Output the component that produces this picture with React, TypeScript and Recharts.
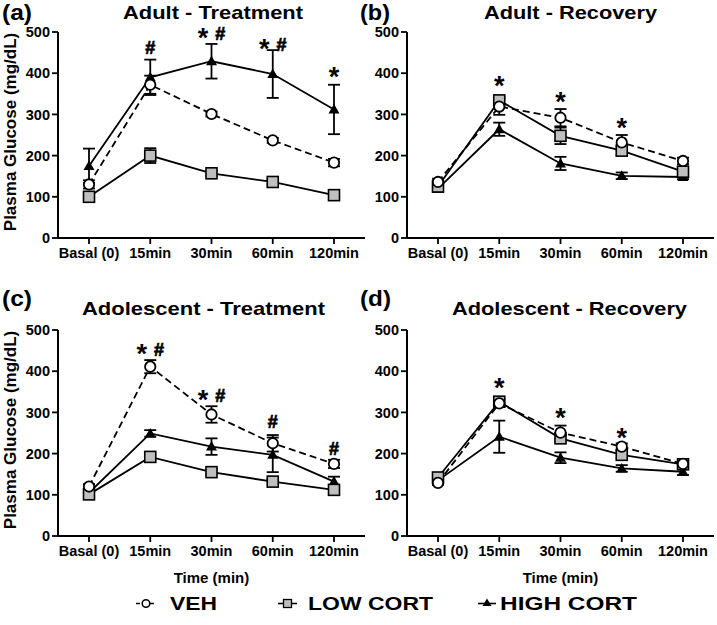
import { LineChart, Line, XAxis, YAxis, ErrorBar, LabelList } from 'recharts';

const FONT = '"Liberation Sans", Arial, sans-serif';

const categories = ['Basal (0)', '15min', '30min', '60min', '120min'];
const yTicks = [0, 100, 200, 300, 400, 500];

// (a) Adult - Treatment
const atVeh = [130, 372, 301, 237, 183];
const atVehErr = [10, 22, 6, 6, 9];
const atLow = [100, 200, 157, 136, 104];
const atLowErr = [6, 18, 6, 6, 5];
const atHigh = [175, 390, 429, 398, 312];
const atHighErr = [42, 43, 42, 58, 60];
const atMark = ['', '#', '* #', '* #', '*'];
const atMarkY = [null, 447, 480, 453, 386];

// (b) Adult - Recovery
const arVeh = [136, 319, 292, 232, 187];
const arVehErr = [8, 20, 21, 18, 8];
const arLow = [125, 334, 248, 212, 161];
const arLowErr = [6, 10, 20, 10, 10];
const arHigh = [120, 264, 181, 151, 148];
const arHighErr = [8, 16, 16, 8, 5];
const arMark = ['', '*', '*', '*', ''];
const arMarkY = [null, 364, 326, 262, null];

// (c) Adolescent - Treatment
const dtVeh = [120, 411, 295, 225, 175];
const dtVehErr = [6, 16, 20, 20, 10];
const dtLow = [101, 192, 155, 132, 112];
const dtLowErr = [5, 6, 6, 6, 6];
const dtHigh = [105, 249, 217, 197, 132];
const dtHighErr = [5, 8, 20, 42, 12];
const dtMark = ['', '* #', '* #', '#', '#'];
const dtMarkY = [null, 438, 326, 262, 197];

// (d) Adolescent - Recovery
const drVeh = [129, 322, 251, 217, 175];
const drVehErr = [5, 8, 17, 8, 6];
const drLow = [142, 326, 237, 197, 174];
const drLowErr = [5, 8, 8, 8, 8];
const drHigh = [135, 241, 190, 164, 156];
const drHighErr = [5, 39, 13, 8, 8];
const drMark = ['', '*', '*', '*', ''];
const drMarkY = [null, 355, 282, 233, null];

function buildData(veh, vehErr, low, lowErr, high, highErr, mark, markY) {
  return categories.map((name, i) => ({
    name,
    veh: veh[i],
    vehErr: vehErr[i],
    low: low[i],
    lowErr: lowErr[i],
    high: high[i],
    highErr: highErr[i],
    mark: mark[i],
    markY: markY[i],
  }));
}

const CircleDot = (props: any) => {
  const { cx, cy, index } = props;
  if (cx == null || cy == null) return <g key={`c${index}`} />;
  return <circle key={`c${index}`} cx={cx} cy={cy} r={5.2} fill="#fff" stroke="#000" strokeWidth={1.8} />;
};

const SquareDot = (props: any) => {
  const { cx, cy, index } = props;
  if (cx == null || cy == null) return <g key={`s${index}`} />;
  return <rect key={`s${index}`} x={cx - 5.5} y={cy - 5.5} width={11} height={11} fill="#bfbfbf" stroke="#000" strokeWidth={1.6} />;
};

const TriangleDot = (props: any) => {
  const { cx, cy, index } = props;
  if (cx == null || cy == null) return <g key={`t${index}`} />;
  return <path key={`t${index}`} d={`M${cx},${cy - 5.5} L${cx + 5.5},${cy + 4} L${cx - 5.5},${cy + 4} Z`} fill="#000" />;
};

// significance marks: large asterisk, bold hash, tops aligned
const markLabel = (props: any) => {
  const { x, y, value } = props;
  if (!value || x == null || y == null) return null;
  const parts = String(value).split(' ');
  const both = parts.length > 1;
  return (
    <text x={x} y={y} textAnchor="middle" fill="#000" fontWeight="bold" fontFamily={FONT}>
      {parts.map((p, i) =>
        p === '*' ? (
          <tspan key={i} fontSize={27} dy={7}>
            {p}
          </tspan>
        ) : (
          <tspan key={i} fontSize={18} dy={both ? -7 : 0} dx={both ? 7 : 0} stroke="#000" strokeWidth={0.7}>
            {p}
          </tspan>
        )
      )}
    </text>
  );
};

const tickStyle = { fill: '#000', fontSize: 14.5, fontWeight: 'bold', fontFamily: FONT };

function Panel({ left, top, data, yLabel, xLabel }: any) {
  return (
    <div style={{ position: 'absolute', left, top }}>
      <LineChart width={367} height={290} data={data} margin={{ top: 32, right: 2, bottom: 0, left: 0 }}>
        <XAxis
          dataKey="name"
          interval={0}
          padding={{ left: 31, right: 31 }}
          height={52}
          tickSize={6}
          tickMargin={4}
          axisLine={{ stroke: '#000', strokeWidth: 2 }}
          tickLine={{ stroke: '#000', strokeWidth: 1.8 }}
          tick={tickStyle}
          label={
            xLabel
              ? (p: any) => {
                  const vb = p.viewBox;
                  return (
                    <text x={vb.x + vb.width / 2} y={vb.y + 47} textAnchor="middle" fill="#000" fontSize={15} fontWeight="bold" fontFamily={FONT}>
                      Time (min)
                    </text>
                  );
                }
              : undefined
          }
        />
        <YAxis
          type="number"
          domain={[0, 500]}
          ticks={yTicks}
          interval={0}
          width={58}
          tickSize={6}
          tickMargin={2}
          axisLine={{ stroke: '#000', strokeWidth: 2 }}
          tickLine={{ stroke: '#000', strokeWidth: 1.8 }}
          tick={tickStyle}
          label={
            yLabel
              ? (p: any) => {
                  const vb = p.viewBox;
                  const cx = vb.x + 16;
                  const cy = vb.y + vb.height / 2 - 3;
                  return (
                    <text x={cx} y={cy} transform={`rotate(-90 ${cx} ${cy})`} textAnchor="middle" fill="#000" fontSize={17} fontWeight="bold" fontFamily={FONT}>
                      Plasma Glucose (mg/dL)
                    </text>
                  );
                }
              : undefined
          }
        />
        <Line dataKey="high" stroke="#000" strokeWidth={1.8} dot={TriangleDot} activeDot={false} isAnimationActive={false}>
          <ErrorBar dataKey="highErr" direction="y" width={6} stroke="#000" strokeWidth={1.8} />
        </Line>
        <Line dataKey="low" stroke="#000" strokeWidth={1.8} dot={SquareDot} activeDot={false} isAnimationActive={false}>
          <ErrorBar dataKey="lowErr" direction="y" width={6} stroke="#000" strokeWidth={1.8} />
        </Line>
        <Line dataKey="veh" stroke="#000" strokeWidth={1.8} strokeDasharray="7 4" dot={CircleDot} activeDot={false} isAnimationActive={false}>
          <ErrorBar dataKey="vehErr" direction="y" width={6} stroke="#000" strokeWidth={1.8} strokeDasharray="0" />
        </Line>
        <Line dataKey="markY" stroke="none" dot={false} activeDot={false} isAnimationActive={false}>
          <LabelList dataKey="mark" content={markLabel} />
        </Line>
      </LineChart>
    </div>
  );
}

const letters = ['(a)', '(b)', '(c)', '(d)'];
const titles = ['Adult - Treatment', 'Adult - Recovery', 'Adolescent - Treatment', 'Adolescent - Recovery'];

export default function App() {
  const txt = { fill: '#000', fontWeight: 'bold', fontFamily: FONT } as any;
  return (
    <div style={{ position: 'absolute', left: 0, top: 0, width: 717, height: 625, background: '#fff', overflow: 'hidden' }}>
      <Panel left={0} top={0} data={buildData(atVeh, atVehErr, atLow, atLowErr, atHigh, atHighErr, atMark, atMarkY)} yLabel />
      <Panel left={349} top={0} data={buildData(arVeh, arVehErr, arLow, arLowErr, arHigh, arHighErr, arMark, arMarkY)} />
      <Panel left={0} top={298} data={buildData(dtVeh, dtVehErr, dtLow, dtLowErr, dtHigh, dtHighErr, dtMark, dtMarkY)} yLabel xLabel />
      <Panel left={349} top={298} data={buildData(drVeh, drVehErr, drLow, drLowErr, drHigh, drHighErr, drMark, drMarkY)} xLabel />
      <svg width={717} height={625} style={{ position: 'absolute', left: 0, top: 0, pointerEvents: 'none' }}>
        <text x={2} y={20} fontSize={22} textLength={30} lengthAdjust="spacingAndGlyphs" {...txt}>{letters[0]}</text>
        <text x={360} y={20} fontSize={22} textLength={30} lengthAdjust="spacingAndGlyphs" {...txt}>{letters[1]}</text>
        <text x={2} y={306} fontSize={22} textLength={30} lengthAdjust="spacingAndGlyphs" {...txt}>{letters[2]}</text>
        <text x={360} y={306} fontSize={22} textLength={31} lengthAdjust="spacingAndGlyphs" {...txt}>{letters[3]}</text>

        <text x={123} y={18.5} fontSize={19} textLength={180} lengthAdjust="spacingAndGlyphs" {...txt}>{titles[0]}</text>
        <text x={484} y={18.5} fontSize={19} textLength={173} lengthAdjust="spacingAndGlyphs" {...txt}>{titles[1]}</text>
        <text x={82} y={315} fontSize={19} textLength={243} lengthAdjust="spacingAndGlyphs" {...txt}>{titles[2]}</text>
        <text x={452} y={315} fontSize={19} textLength={235} lengthAdjust="spacingAndGlyphs" {...txt}>{titles[3]}</text>

        {/* legend */}
        <line x1={136} y1={603.5} x2={156} y2={603.5} stroke="#000" strokeWidth={1.6} strokeDasharray="4 3" />
        <circle cx={146} cy={603.5} r={3.8} fill="#fff" stroke="#000" strokeWidth={1.5} />
        <text x={170} y={610} fontSize={18.5} textLength={47} lengthAdjust="spacingAndGlyphs" {...txt}>VEH</text>

        <line x1={278} y1={603.5} x2={297} y2={603.5} stroke="#000" strokeWidth={1.6} />
        <rect x={283.5} y={599.5} width={8} height={8} fill="#bfbfbf" stroke="#000" strokeWidth={1.3} />
        <text x={308} y={610} fontSize={18.5} textLength={125} lengthAdjust="spacingAndGlyphs" {...txt}>LOW CORT</text>

        <line x1={478} y1={603.5} x2={496} y2={603.5} stroke="#000" strokeWidth={1.6} />
        <path d="M487,598.5 L491.5,606 L482.5,606 Z" fill="#000" />
        <text x={500} y={610} fontSize={18.5} textLength={137} lengthAdjust="spacingAndGlyphs" {...txt}>HIGH CORT</text>
      </svg>
    </div>
  );
}
